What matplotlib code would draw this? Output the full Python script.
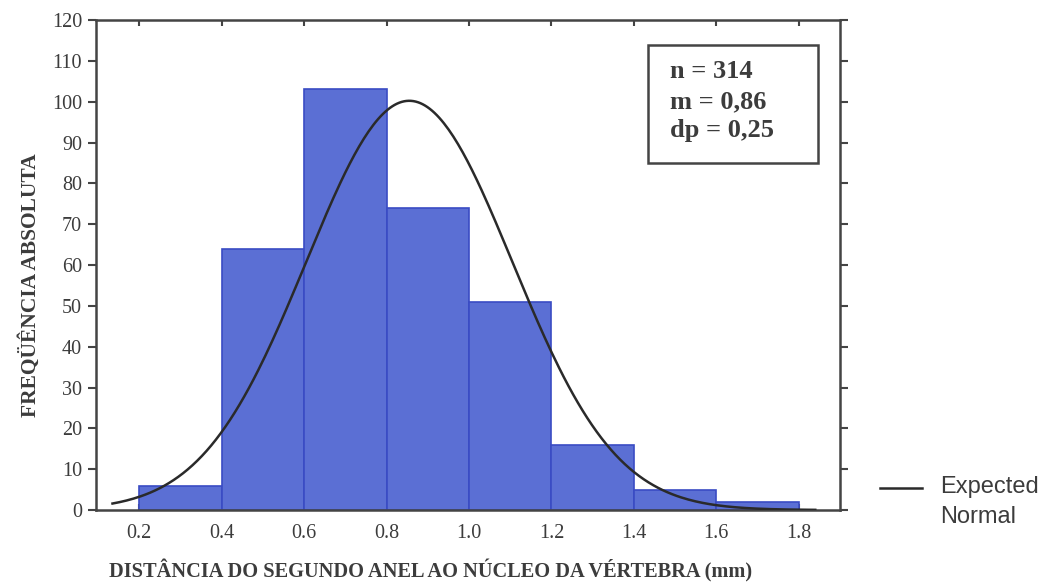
import numpy as np
import matplotlib.pyplot as plt
from matplotlib.lines import Line2D
from matplotlib.patches import Rectangle

# histogram bins (mm) and absolute frequencies
bin_edges = [0.2, 0.4, 0.6, 0.8, 1.0, 1.2, 1.4, 1.6, 1.8]
counts = [6, 64, 103, 74, 51, 16, 5, 2]

# sample summary shown in the box
n_obs = 314
mean_mm = 0.855
sd_mm = 0.25
curve_range = (0.135, 1.84)
stats_lines = ["n = 314", "m = 0,86", "dp = 0,25"]

x_ticks = [0.2, 0.4, 0.6, 0.8, 1.0, 1.2, 1.4, 1.6, 1.8]
y_ticks = list(range(0, 121, 10))

serif = ["Liberation Serif", "DejaVu Serif"]
text_gray = "#3c3c3c"
W, H = 1044, 583

fig = plt.figure(figsize=(W / 100, H / 100), dpi=100)
ax = fig.add_axes([96 / W, 1 - 510 / H, 744 / W, 490 / H])

lefts = np.array(bin_edges[:-1])
widths = np.diff(bin_edges)
ax.bar(lefts, counts, width=widths, align="edge",
       color="#5b6fd4", edgecolor="#3a4cc4", linewidth=1.2, zorder=2)

# expected normal curve: n * bin width * pdf
xs = np.linspace(curve_range[0], curve_range[1], 300)
bw = widths[0]
ys = n_obs * bw / (sd_mm * np.sqrt(2 * np.pi)) * np.exp(-0.5 * ((xs - mean_mm) / sd_mm) ** 2)
ax.plot(xs, ys, color="#2a2a2a", linewidth=1.8, zorder=3)

ax.set_xlim(0.095, 1.9)
ax.set_ylim(0, 120)
ax.set_xticks(x_ticks)
ax.set_xticklabels([f"{v:.1f}" for v in x_ticks])
ax.set_yticks(y_ticks)

ax.tick_params(axis="y", direction="out", length=6, width=1.5, colors="#444444", pad=4)
ax.tick_params(axis="x", direction="in", length=4, width=1.5, colors="#444444", pad=10)
ax.tick_params(top=True, right=True, labeltop=False, labelright=False)
for lab in ax.get_xticklabels() + ax.get_yticklabels():
    lab.set_family(serif)
    lab.set_fontsize(14.5)
    lab.set_color(text_gray)

for sp in ax.spines.values():
    sp.set_linewidth(1.8)
    sp.set_color("#444444")

# axis titles placed in figure pixels
fig.text(30 / W, 1 - 285 / H, "FREQÜÊNCIA ABSOLUTA", family=serif, fontsize=15.5,
         fontweight="bold", color=text_gray, rotation=90, ha="center", va="center")
fig.text(431 / W, 1 - 571 / H, "DISTÂNCIA DO SEGUNDO ANEL AO NÚCLEO DA VÉRTEBRA (mm)",
         family=serif, fontsize=14.7, fontweight="bold", color=text_gray,
         ha="center", va="center")

# stats box
fig.add_artist(Rectangle((648 / W, 1 - 163 / H), 170 / W, 118 / H, transform=fig.transFigure,
                         facecolor="white", edgecolor="#444444", linewidth=1.8, zorder=5))
for i, s in enumerate(stats_lines):
    fig.text(670 / W, 1 - (72 + 29.5 * i) / H, s, family=serif, fontsize=19,
             fontweight="bold", color=text_gray, ha="left", va="center", zorder=6)

# legend outside the plot
fig.add_artist(Line2D([880 / W, 922 / W], [1 - 488 / H, 1 - 488 / H],
                      transform=fig.transFigure, color="#2a2a2a", linewidth=1.8))
fig.text(940 / W, 1 - 487 / H, "Expected", family="Liberation Sans", fontsize=17,
         color=text_gray, ha="left", va="center")
fig.text(940 / W, 1 - 517 / H, "Normal", family="Liberation Sans", fontsize=17,
         color=text_gray, ha="left", va="center")

fig.savefig("out.png", dpi=100)
